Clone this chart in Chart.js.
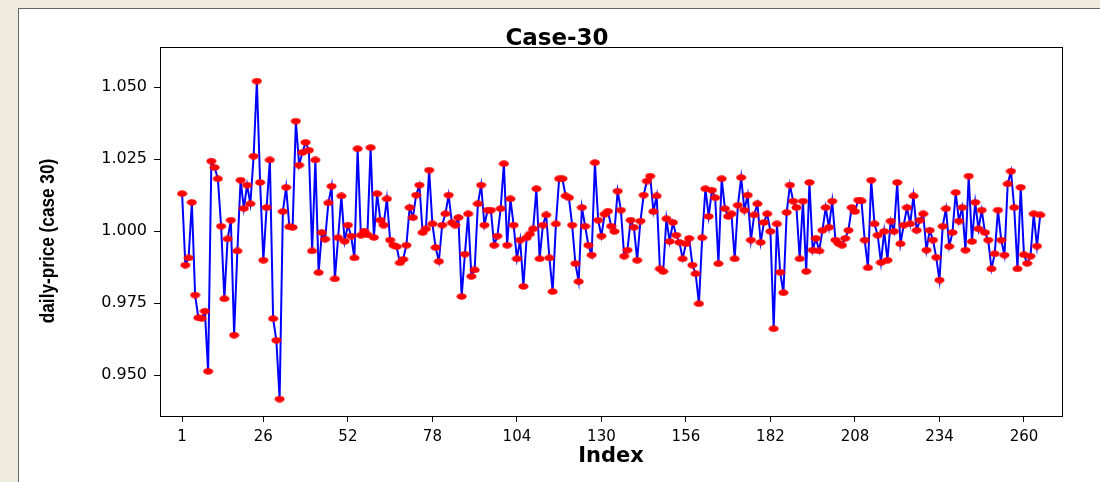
<!DOCTYPE html>
<html>
<head>
<meta charset="utf-8">
<script src="https://cdn.jsdelivr.net/npm/chart.js@4.4.1/dist/chart.umd.min.js"></script>
<style>
    html, body { margin: 0; padding: 0; }
    body { width: 1100px; height: 482px; background: #efebdf; position: relative; overflow: hidden; }
    #panel {
        position: absolute; left: 18px; top: 8px; width: 1082px; height: 474px;
        background: #fff; border-left: 1px solid #666; border-top: 1px solid #666; box-sizing: border-box;
    }
    #wrap { position: absolute; left: 0; top: 0; width: 1081px; height: 473px; }
</style>
</head>
<body>
<div id="panel"><div id="wrap"><canvas id="chart"></canvas></div></div>
<script>
"use strict";

// daily price, case 30 (index 1..265)
const prices = [
    1.0130, 0.9882, 0.9907, 1.0100, 0.9778, 0.9699, 0.9697, 0.9722, 0.9513, 1.0243,
    1.0221, 1.0182, 1.0017, 0.9765, 0.9973, 1.0038, 0.9639, 0.9931, 1.0177, 1.0079,
    1.0160, 1.0095, 1.0260, 1.0521, 1.0169, 0.9899, 1.0082, 1.0247, 0.9696, 0.9621,
    0.9417, 1.0068, 1.0152, 1.0015, 1.0013, 1.0382, 1.0229, 1.0273, 1.0308, 1.0281,
    0.9931, 1.0247, 0.9856, 0.9995, 0.9972, 1.0098, 1.0156, 0.9834, 0.9977, 1.0122,
    0.9965, 1.0021, 0.9983, 0.9907, 1.0286, 0.9986, 1.0000, 0.9987, 1.0290, 0.9978,
    1.0130, 1.0038, 1.0021, 1.0112, 0.9969, 0.9951, 0.9946, 0.9890, 0.9902, 0.9951,
    1.0082, 1.0047, 1.0125, 1.0160, 0.9995, 1.0008, 1.0212, 1.0025, 0.9943, 0.9895,
    1.0021, 1.0060, 1.0125, 1.0029, 1.0021, 1.0047, 0.9773, 0.9920, 1.0060, 0.9843,
    0.9865, 1.0095, 1.0160, 1.0021, 1.0073, 1.0073, 0.9951, 0.9983, 1.0078, 1.0234,
    0.9951, 1.0112, 1.0021, 0.9904, 0.9969, 0.9808, 0.9977, 0.9990, 1.0008, 1.0147,
    0.9904, 1.0021, 1.0056, 0.9907, 0.9790, 1.0025, 1.0182, 1.0182, 1.0122, 1.0116,
    1.0021, 0.9887, 0.9825, 1.0082, 1.0017, 0.9951, 0.9917, 1.0238, 1.0038, 0.9983,
    1.0059, 1.0069, 1.0017, 0.9999, 1.0139, 1.0073, 0.9913, 0.9934, 1.0038, 1.0013,
    0.9899, 1.0035, 1.0125, 1.0174, 1.0191, 1.0068, 1.0122, 0.9869, 0.9860, 1.0043,
    0.9964, 1.0030, 0.9986, 0.9961, 0.9904, 0.9956, 0.9975, 0.9882, 0.9852, 0.9748,
    0.9977, 1.0147, 1.0051, 1.0142, 1.0116, 0.9887, 1.0182, 1.0078, 1.0051, 1.0060,
    0.9904, 1.0090, 1.0186, 1.0073, 1.0125, 0.9969, 1.0056, 1.0095, 0.9961, 1.0030,
    1.0060, 0.9999, 0.9661, 1.0025, 0.9857, 0.9786, 1.0065, 1.0160, 1.0104, 1.0082,
    0.9904, 1.0104, 0.9860, 1.0169, 0.9934, 0.9975, 0.9931, 1.0003, 1.0082, 1.0013,
    1.0104, 0.9969, 0.9957, 0.9951, 0.9975, 1.0003, 1.0082, 1.0068, 1.0108, 1.0105,
    0.9969, 0.9873, 1.0177, 1.0025, 0.9986, 0.9891, 0.9999, 0.9899, 1.0035, 0.9999,
    1.0169, 0.9956, 1.0021, 1.0082, 1.0025, 1.0122, 1.0003, 1.0038, 1.0060, 0.9934,
    1.0003, 0.9969, 0.9909, 0.9830, 1.0017, 1.0078, 0.9947, 0.9995, 1.0134, 1.0035,
    1.0082, 0.9934, 1.0191, 0.9964, 1.0100, 1.0008, 1.0073, 0.9995, 0.9969, 0.9869,
    0.9921, 1.0073, 0.9969, 0.9917, 1.0164, 1.0208, 1.0082, 0.9869, 1.0152, 0.9918,
    0.9888, 0.9913, 1.0060, 0.9948, 1.0056
];
const xTicks = [1, 26, 52, 78, 104, 130, 156, 182, 208, 234, 260];
const yTicks = [0.950, 0.975, 1.000, 1.025, 1.050];

const TITLE = "Case-30";
const X_LABEL = "Index";
const Y_LABEL = "daily-price (case 30)";

// red ellipse marker, wider than tall like the original
const dot = document.createElement("canvas");
dot.width = 11;
dot.height = 7;
{
    const c = dot.getContext("2d");
    c.fillStyle = "#ff0000";
    c.beginPath();
    c.ellipse(5.5, 3.5, 5, 3.3, 0, 0, Math.PI * 2);
    c.fill();
}

// box round the plot + the narrow bold y label
const frame = {
    id: "frame",
    afterDraw (chart) {
        const {ctx, chartArea: a} = chart;
        ctx.save();
        ctx.strokeStyle = "#000";
        ctx.lineWidth = 1;
        ctx.strokeRect(Math.round(a.left) + 0.5, Math.round(a.top) + 0.5,
            Math.round(a.right - a.left), Math.round(a.bottom - a.top));

        ctx.translate(29, 232);
        ctx.rotate(-Math.PI / 2);
        ctx.scale(0.86, 1);
        ctx.font = "bold 20px 'Liberation Sans', Arial, sans-serif";
        ctx.fillStyle = "#000";
        ctx.textAlign = "center";
        ctx.textBaseline = "middle";
        ctx.fillText(Y_LABEL, 0, 0);
        ctx.restore();
    }
};

new Chart(document.getElementById("chart"), {
    type: "line",
    data: {
        datasets: [{
            data: prices.map((v, i) => ({x: i + 1, y: v})),
            borderColor: "#0000ff",
            borderWidth: 2,
            tension: 0,
            pointStyle: dot,
            pointRadius: 4,
            pointHoverRadius: 4
        }]
    },
    options: {
        responsive: true,
        maintainAspectRatio: false,
        animation: false,
        events: [],
        layout: {padding: {left: 33, right: 38, top: 0, bottom: 0}},
        plugins: {
            legend: {display: false},
            tooltip: {enabled: false},
            title: {
                display: true,
                text: TITLE,
                color: "#000",
                font: {family: "'DejaVu Sans', Verdana, sans-serif", size: 23, weight: "bold", lineHeight: 0.7},
                padding: {top: 22, bottom: 0}
            }
        },
        scales: {
            x: {
                type: "linear",
                min: -5.8,
                max: 271.7,
                afterBuildTicks: axis => { axis.ticks = xTicks.map(v => ({value: v})); },
                afterFit: axis => { axis.height = 66; },
                grid: {drawOnChartArea: false, drawTicks: true, tickLength: 6, color: "#000"},
                border: {display: true, color: "#000"},
                ticks: {
                    color: "#000", padding: 6, maxRotation: 0, autoSkip: false,
                    font: {family: "'DejaVu Sans', Verdana, sans-serif", size: 15}
                },
                title: {
                    display: true, text: X_LABEL, color: "#000", padding: {top: 0, bottom: 13},
                    font: {family: "'DejaVu Sans', Verdana, sans-serif", size: 21, weight: "bold"}
                }
            },
            y: {
                min: 0.9358,
                max: 1.0639,
                afterBuildTicks: axis => { axis.ticks = yTicks.map(v => ({value: v})); },
                afterFit: axis => { axis.width = 108; },
                grid: {drawOnChartArea: false, drawTicks: true, tickLength: 6, color: "#000"},
                border: {display: true, color: "#000"},
                ticks: {
                    color: "#000", padding: 7, autoSkip: false,
                    callback: v => v.toFixed(3),
                    font: {family: "'DejaVu Sans', Verdana, sans-serif", size: 16}
                }
            }
        }
    },
    plugins: [frame]
});
</script>
</body>
</html>
